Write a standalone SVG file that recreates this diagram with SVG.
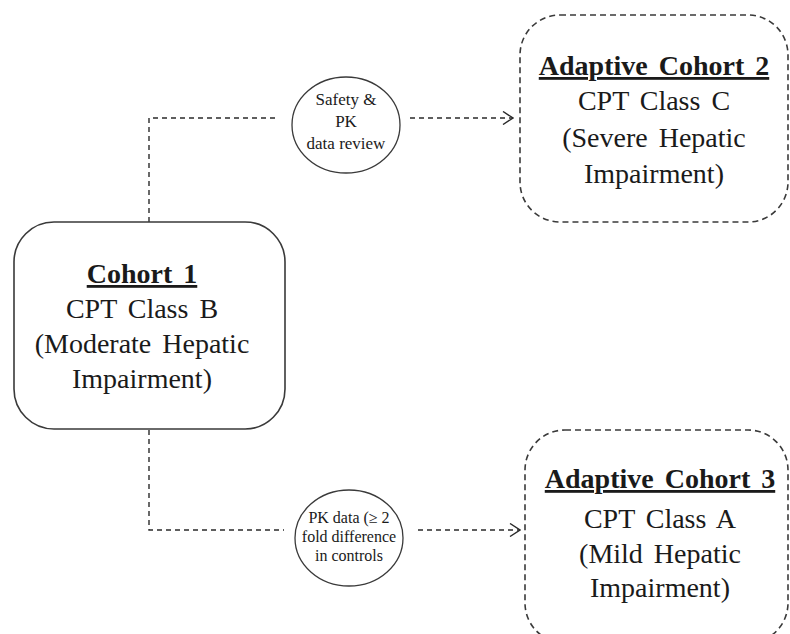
<svg xmlns="http://www.w3.org/2000/svg" width="790" height="634" viewBox="0 0 790 634">
<style>
  .box { fill: #ffffff; stroke: #3a3a3a; stroke-width: 1.6; }
  .dbox { fill: #ffffff; stroke: #3a3a3a; stroke-width: 1.6; stroke-dasharray: 6 4; }
  .ell { fill: #ffffff; stroke: #3a3a3a; stroke-width: 1.3; }
  .conn { fill: none; stroke: #2a2a2a; stroke-width: 1.4; stroke-dasharray: 5 4; }
  text { font-family: "Liberation Serif", "DejaVu Serif", "Times New Roman", serif; fill: #1a1a1a; text-anchor: middle; }
  .t { font-size: 28px; word-spacing: 4px; }
  .title { font-weight: bold; text-decoration: underline; }
  .s { font-size: 17px; }
  .s2 { font-size: 16px; }
</style>
<defs>
  <marker id="arr" viewBox="0 0 12 14" refX="11" refY="7" markerWidth="12" markerHeight="14" markerUnits="userSpaceOnUse" orient="auto">
    <path d="M1,0.5 L11,7 L1,13.5" fill="none" stroke="#2a2a2a" stroke-width="1.4"/>
  </marker>
</defs>
<rect width="790" height="634" fill="#ffffff"/>
<g id="connectors">
  <path class="conn" d="M149,222 V118 H278"/>
  <path class="conn" d="M410,118 H513" marker-end="url(#arr)"/>
  <path class="conn" d="M149,430 V530 H284"/>
  <path class="conn" d="M418,530 H520" marker-end="url(#arr)"/>
</g>
<g id="cohort1">
  <rect class="box" x="14" y="222" width="271" height="207" rx="40" ry="40"/>
  <text class="t title" x="142" y="283">Cohort 1</text>
  <text class="t" x="142" y="318">CPT Class B</text>
  <text class="t" x="142" y="353">(Moderate Hepatic</text>
  <text class="t" x="142" y="388">Impairment)</text>
</g>
<g id="review1">
  <ellipse class="ell" cx="346" cy="125" rx="54" ry="48"/>
  <text class="s" x="346" y="105">Safety &amp;</text>
  <text class="s" x="346" y="127">PK</text>
  <text class="s" x="346" y="149">data review</text>
</g>
<g id="cohort2">
  <rect class="dbox" x="520" y="15" width="268" height="207" rx="40" ry="40"/>
  <text class="t title" x="654" y="75">Adaptive Cohort 2</text>
  <text class="t" x="654" y="110">CPT Class C</text>
  <text class="t" x="654" y="147">(Severe Hepatic</text>
  <text class="t" x="654" y="183">Impairment)</text>
</g>
<g id="review2">
  <ellipse class="ell" cx="349" cy="538" rx="54" ry="48"/>
  <text class="s2" x="349" y="523">PK data (≥ 2</text>
  <text class="s2" x="349" y="542">fold difference</text>
  <text class="s2" x="349" y="561">in controls</text>
</g>
<g id="cohort3">
  <rect class="dbox" x="525" y="430" width="263" height="213" rx="40" ry="40"/>
  <text class="t title" x="660" y="488">Adaptive Cohort 3</text>
  <text class="t" x="660" y="528">CPT Class A</text>
  <text class="t" x="660" y="563">(Mild Hepatic</text>
  <text class="t" x="660" y="597">Impairment)</text>
</g>
</svg>
